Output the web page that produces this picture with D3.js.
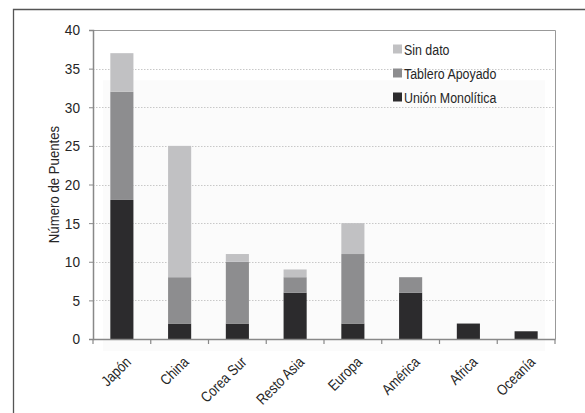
<!DOCTYPE html>
<html><head><meta charset="utf-8">
<script src="https://cdn.jsdelivr.net/npm/d3@7"></script>
<style>
body{margin:0;background:#fff;}
svg{display:block;}
text{font-family:"Liberation Sans",Arial,sans-serif;fill:#262626;}
</style></head><body>
<svg id="c" width="585" height="413"></svg>
<script>
const categories = ["Japón","China","Corea Sur","Resto Asia","Europa","América","Africa","Oceanía"];
const union = [18,2,2,6,2,6,2,1];
const tablero = [14,6,8,2,9,2,0,0];
const sinDato = [5,17,1,1,4,0,0,0];
const seriesNames = ["Unión Monolítica","Tablero Apoyado","Sin dato"];
const seriesColors = ["#2c2b2d","#8d8d8f","#c1c1c3"];
const yTicks = [0,5,10,15,20,25,30,35,40];
const yLabel = "Número de Puentes";

const svg = d3.select("#c");
const m = {l:93, t:30, r:555, b:339};

function condense(sel, f){
  sel.each(function(){
    const w = this.getComputedTextLength();
    d3.select(this).attr("textLength",w*f).attr("lengthAdjust","spacingAndGlyphs");
  });
}

// outer frame
svg.append("path").attr("d","M13.5,413 L13.5,9.5 L585,9.5").attr("fill","none").attr("stroke","#555").attr("stroke-width",1.3);

const x = d3.scaleBand().domain(categories).range([m.l,m.r]).paddingInner(0.6).paddingOuter(0.3);
const xb = d3.scaleBand().domain(categories).range([m.l,m.r]);
const y = d3.scaleLinear().domain([0,40]).range([m.b,m.t]);

// faint shadow area
svg.append("rect").attr("x",m.l+10).attr("y",y(33.5)).attr("width",m.r-m.l-20).attr("height",m.b-y(33.5)+12).attr("fill","#fbfbfb");

// plot frame (top/right)
svg.append("path").attr("d",`M${m.l},${m.t+0.5} L${m.r+0.5},${m.t+0.5} L${m.r+0.5},${m.b}`).attr("fill","none").attr("stroke","#999").attr("stroke-width",1);

// gridlines
svg.append("g").selectAll("line").data(yTicks.filter(d=>d>0 && d<40)).join("line")
  .attr("x1",m.l).attr("x2",m.r).attr("y1",d=>Math.round(y(d))+0.5).attr("y2",d=>Math.round(y(d))+0.5)
  .attr("stroke","#c8c8c8").attr("stroke-dasharray","1.5,1.5");

// stacked bars
const data = categories.map((c,i)=>({cat:c, u:union[i], t:tablero[i], s:sinDato[i]}));
const stack = d3.stack().keys(["u","t","s"])(data);
svg.append("g").selectAll("g").data(stack).join("g").attr("fill",(d,i)=>seriesColors[i])
  .selectAll("rect").data(d=>d).join("rect")
  .attr("x",d=>x(d.data.cat)).attr("width",x.bandwidth())
  .attr("y",d=>y(d[1])).attr("height",d=>y(d[0])-y(d[1]));

// y axis
const ya = svg.append("g").attr("transform",`translate(${m.l},0)`)
  .call(d3.axisLeft(y).tickValues(yTicks).tickSize(4).tickPadding(9));
ya.select(".domain").attr("stroke","#888").attr("stroke-width",1.5);
ya.selectAll(".tick line").attr("stroke","#888");
ya.selectAll("text").attr("font-size",15.5).style("fill","#262626").style("font-family","Liberation Sans");
condense(ya.selectAll("text"),0.88);

// x axis
const xa = svg.append("g").attr("transform",`translate(0,${m.b})`)
  .call(d3.axisBottom(xb).tickSize(0).tickSizeOuter(0));
xa.select(".domain").attr("stroke","#888").attr("stroke-width",1.5);
xa.selectAll(".tick text").attr("font-size",15).style("fill","#262626").style("font-family","Liberation Sans")
  .attr("text-anchor","end").attr("dy","0").attr("y",0)
  .attr("transform","translate(10,24) rotate(-45)");
condense(xa.selectAll(".tick text"),0.84);
// tick marks at band boundaries
svg.append("g").selectAll("line").data(categories).join("line")
  .attr("x1",(d,i)=>m.l+xb.step()*(i+1)).attr("x2",(d,i)=>m.l+xb.step()*(i+1))
  .attr("y1",m.b).attr("y2",m.b+5).attr("stroke","#888").attr("stroke-width",1.2);
svg.append("line").attr("x1",m.l).attr("x2",m.l).attr("y1",m.b).attr("y2",m.b+5).attr("stroke","#888").attr("stroke-width",1.2);

// y label
const yl = svg.append("text").attr("transform",`translate(59,${(m.t+m.b)/2}) rotate(-90)`)
  .attr("text-anchor","middle").attr("font-size",15).text(yLabel);
condense(yl,0.88);

// legend
const legOrder = [2,1,0];
const lg = svg.append("g");
legOrder.forEach((si,k)=>{
  const cy = 49 + k*24;
  lg.append("rect").attr("x",393).attr("y",cy-4.5).attr("width",9).attr("height",9).attr("fill",seriesColors[si]);
  lg.append("text").attr("x",404).attr("y",cy+5.5).attr("font-size",15.5).text(seriesNames[si]);
});
condense(lg.selectAll("text"),0.8);
</script>
</body></html>
